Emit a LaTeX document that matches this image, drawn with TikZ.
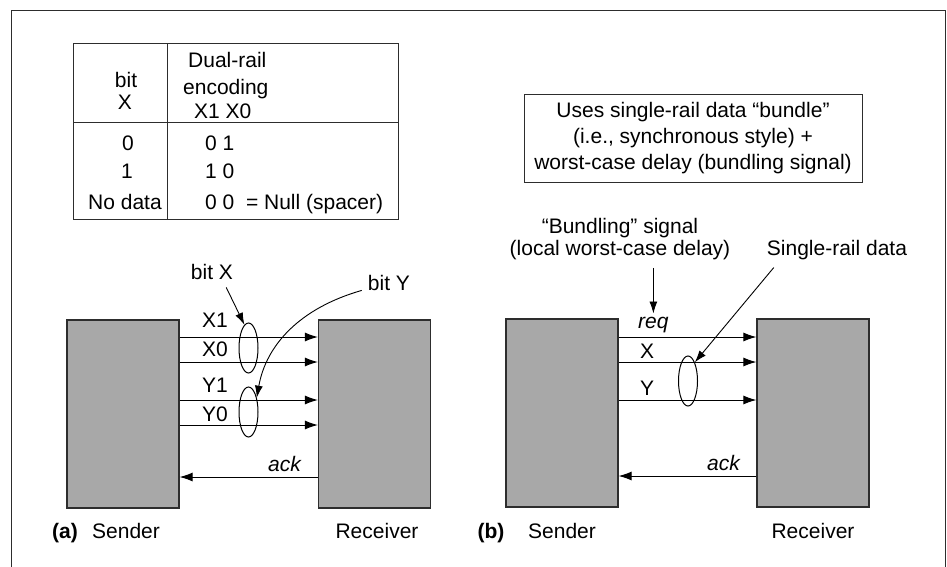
\documentclass[tikz,border=0pt]{standalone}
\usepackage{fontspec}
\setmainfont{Liberation Sans}
\usetikzlibrary{arrows.meta,shapes.geometric}
\definecolor{boxgray}{RGB}{168,168,168}
\definecolor{linegray}{RGB}{45,45,45}

\begin{document}
\begin{tikzpicture}[x=1pt,y=-1pt,font=\fontsize{21}{25}\selectfont]

		\tikzstyle{block}=[rectangle,
			fill=boxgray,draw=linegray,line width=1.2pt,
			minimum width=112pt,minimum height=188pt,
			inner sep=0pt]
		\tikzstyle{sig}=[-{Latex[length=13pt,width=9pt]},
			draw=black,line width=1pt]
		\tikzstyle{ptr}=[-{Latex[length=12pt,width=8pt]},
			draw=black,line width=0.9pt]
		\tikzstyle{bundle}=[ellipse,draw=black,line width=1pt,
			minimum width=19pt,minimum height=50pt,inner sep=0pt]
		\tikzstyle{txt}=[inner sep=0pt,anchor=base]
		\tikzstyle{ltxt}=[inner sep=0pt,anchor=base west]
		\tikzstyle{rtxt}=[inner sep=0pt,anchor=base east]

		\useasboundingbox (0,0) rectangle (947,567);
		\draw[linegray,line width=1pt]	(11,567) -- (11,11) -- (945,11) -- (945,567);

		% encoding table
		\draw[linegray,line width=1pt]	(73,44) rectangle (398,219);
		\draw[linegray,line width=1pt]	(167,44) -- (167,219);
		\draw[linegray,line width=1pt]	(73,123) -- (398,123);

		\node[txt]	(bitHd)	at (126,88)	{bit};
		\node[txt]	(xHd)	at (125,110)	{X};
		\node[ltxt]	(dualHd)	at (188,68)	{Dual-rail};
		\node[ltxt]	(encHd)	at (183,95)	{encoding};
		\node[ltxt]	(pairHd)	at (194,118)	{X1 X0};
		\node[txt]	(bitZero)	at (128,150)	{0};
		\node[txt]	(bitOne)	at (127,178)	{1};
		\node[txt]	(bitNone)	at (125,209)	{No data};
		\node[ltxt]	(codeZero)	at (205,150)	{0 1};
		\node[ltxt]	(codeOne)	at (205,178)	{1 0};
		\node[ltxt]	(codeNone)	at (205,209)	{0 0\ \ = Null (spacer)};

		% bundled-data note
		\node[draw=linegray,line width=1pt,
			minimum width=338pt,minimum height=87pt,
			align=center,inner sep=0pt,
			font=\fontsize{21}{26}\selectfont]	(note)	at (693,138.5)
			{Uses single-rail data “bundle”\\(i.e., synchronous style) +\\worst-case delay (bundling signal)};

		% (a) dual-rail
		\node[block]	(sendA)	at (123,414)	{};
		\node[block]	(recvA)	at (374.5,414)	{};

		\draw[sig]	(sendA.east |- 0,337)	--	(recvA.west |- 0,337);
		\draw[sig]	(sendA.east |- 0,362)	--	(recvA.west |- 0,362);
		\draw[sig]	(sendA.east |- 0,400)	--	(recvA.west |- 0,400);
		\draw[sig]	(sendA.east |- 0,425)	--	(recvA.west |- 0,425);
		\draw[sig]	(recvA.west |- 0,477)	--	(sendA.east |- 0,477);

		\node[ltxt]	(lblXa)	at (202,327)	{X1};
		\node[ltxt]	(lblXb)	at (202,356)	{X0};
		\node[ltxt]	(lblYa)	at (202,392)	{Y1};
		\node[ltxt]	(lblYb)	at (202,421)	{Y0};
		\node[rtxt]	(ackA)	at (301,471)	{\itshape ack};

		\node[bundle]	(ovalX)	at (248.5,348)	{};
		\node[bundle]	(ovalY)	at (248.5,412)	{};

		\node[txt]	(bitX)	at (212,279)	{bit X};
		\node[txt]	(bitY)	at (389,290)	{bit Y};

		\draw[ptr]	([shift={(-7,8)}]bitX.south east)	--	(ovalX.100);
		\draw[ptr]	([shift={(-6,0)}]bitY.south west)	.. controls (300,308) and (266,345) ..	(ovalY.60);

		\node[txt]	(labA)	at (65,538)	{\bfseries (a)};
		\node[txt]	(sendLblA)	at (126,538)	{Sender};
		\node[txt]	(recvLblA)	at (377,538)	{Receiver};

		% (b) bundled data
		\node[block]	(sendB)	at (562,413)	{};
		\node[block]	(recvB)	at (813,413)	{};

		\draw[sig]	(sendB.east |- 0,337)	--	(recvB.west |- 0,337);
		\draw[sig]	(sendB.east |- 0,362)	--	(recvB.west |- 0,362);
		\draw[sig]	(sendB.east |- 0,400)	--	(recvB.west |- 0,400);
		\draw[sig]	(recvB.west |- 0,476)	--	(sendB.east |- 0,476);

		\node[ltxt]	(req)	at (638,328)	{\itshape req};
		\node[ltxt]	(lblX)	at (640,358)	{X};
		\node[ltxt]	(lblY)	at (640,395)	{Y};
		\node[rtxt]	(ackB)	at (740,470)	{\itshape ack};

		\node[bundle]	(ovalB)	at (688,381)	{};

		\node[align=center,inner sep=0pt,
			font=\fontsize{21}{22}\selectfont]	(bundling)	at (620,239)
			{“Bundling” signal\\(local worst-case delay)};
		\node[txt]	(single)	at (837,255)	{Single-rail data};

		\draw[ptr]	([yshift=-8pt]bundling.south -| req.north)	--	([yshift=3pt]req.north);
		\draw[ptr]	([shift={(7,8)}]single.south west)	--	(ovalB.70);

		\node[txt]	(labB)	at (491,538)	{\bfseries (b)};
		\node[txt]	(sendLblB)	at (562,538)	{Sender};
		\node[txt]	(recvLblB)	at (813,538)	{Receiver};

	\end{tikzpicture}
\end{document}
